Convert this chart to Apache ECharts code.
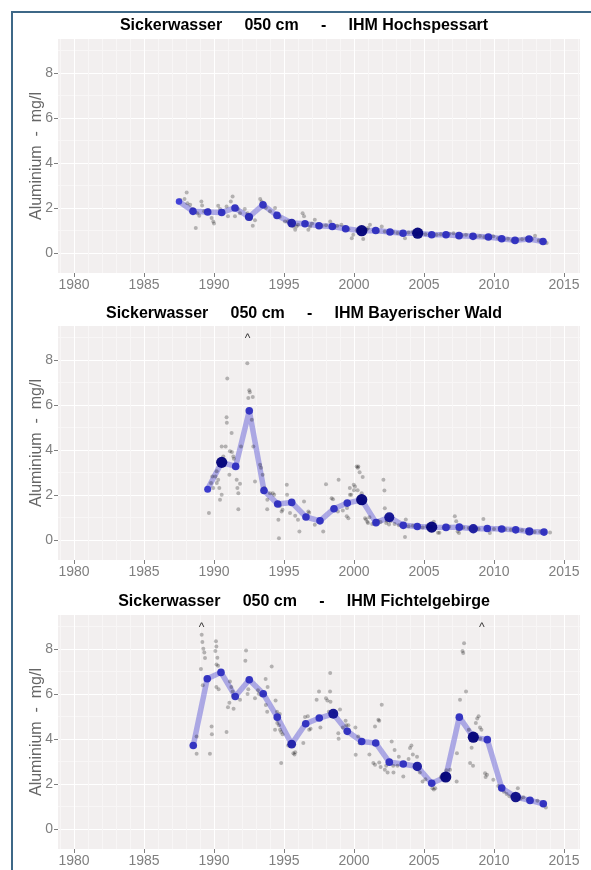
<!DOCTYPE html>
<html><head><meta charset="utf-8">
<script src="https://cdn.jsdelivr.net/npm/echarts@6/dist/echarts.min.js"></script>
<style>html,body{margin:0;padding:0;background:#fff}#c{width:591px;height:870px}</style>
</head><body><div id="c"></div>
<script>
const titles = [
  'Sickerwasser     050 cm     -     IHM Hochspessart',
  'Sickerwasser     050 cm     -     IHM Bayerischer Wald',
  'Sickerwasser     050 cm     -     IHM Fichtelgebirge'
];
const yAxisName = 'Aluminium  -  mg/l';
const xTicks = [1980, 1985, 1990, 1995, 2000, 2005, 2010, 2015];
const yTicks = [0, 2, 4, 6, 8];

// Panel 1: Hochspessart — annual means and sample counts
const years1 = [1987.5,1988.5,1989.55,1990.55,1991.5,1992.5,1993.5,1994.5,1995.55,1996.5,1997.5,1998.45,1999.4,2000.55,2001.55,2002.57,2003.5,2004.55,2005.55,2006.57,2007.5,2008.5,2009.6,2010.55,2011.5,2012.5,2013.5];
const means1 = [2.28,1.84,1.81,1.79,1.99,1.59,2.13,1.66,1.32,1.29,1.2,1.17,1.07,0.98,0.99,0.92,0.87,0.87,0.8,0.8,0.76,0.73,0.7,0.62,0.55,0.61,0.5];
const counts1 = [8,12,12,12,12,14,12,12,16,12,12,12,12,24,12,12,12,24,12,12,12,12,12,12,12,12,12];
const obs1 = [[1987.6,2.35],[1987.9,2.39],[1988.05,2.68],[1988.1,2.2],[1988.3,2.13],[1988.5,1.95],[1988.7,1.10],[1988.8,1.76],[1988.95,1.64],[1989.1,2.28],[1989.15,2.1],[1989.3,1.85],[1989.6,1.9],[1989.83,1.54],[1989.95,1.39],[1990.0,1.3],[1990.3,2.09],[1990.43,1.94],[1990.6,1.85],[1990.9,2.06],[1991.0,1.62],[1991.2,2.28],[1991.33,2.5],[1991.5,1.62],[1991.7,1.95],[1991.86,1.76],[1992.2,1.94],[1992.4,1.76],[1992.6,1.5],[1992.77,1.2],[1992.93,1.44],[1993.3,2.39],[1993.4,2.28],[1993.7,2.0],[1994.0,1.85],[1994.36,1.99],[1994.7,1.6],[1995.07,1.39],[1995.3,1.4],[1995.5,1.3],[1995.67,1.17],[1995.8,1.02],[1995.9,1.17],[1996.0,1.25],[1996.33,1.76],[1996.43,1.62],[1996.6,1.3],[1996.74,1.02],[1996.86,1.17],[1997.0,1.3],[1997.2,1.47],[1997.4,1.25],[1997.7,1.2],[1998.0,1.22],[1998.3,1.39],[1998.6,1.15],[1998.8,1.2],[1999.1,1.24],[1999.3,1.1],[1999.6,1.05],[1999.84,0.65],[1999.95,0.8],[2000.2,1.0],[2000.4,0.95],[2000.66,0.61],[2000.8,1.0],[2000.9,1.02],[2001.0,1.1],[2001.14,1.24],[2001.4,1.0],[2001.7,0.95],[2001.98,1.17],[2002.2,0.95],[2002.5,0.9],[2002.8,0.92],[2003.1,0.88],[2003.4,0.85],[2003.64,0.65],[2003.9,0.9],[2004.2,0.92],[2004.5,0.85],[2004.8,0.88],[2005.1,0.82],[2005.4,0.8],[2005.9,0.8],[2006.2,0.82],[2006.5,0.78],[2006.8,0.84],[2007.1,0.87],[2007.4,0.75],[2007.7,0.78],[2008.0,0.8],[2008.4,0.8],[2008.7,0.72],[2009.0,0.75],[2009.3,0.7],[2009.7,0.68],[2009.95,0.73],[2010.3,0.65],[2010.7,0.6],[2011.0,0.62],[2011.3,0.55],[2011.7,0.58],[2012.0,0.6],[2012.3,0.62],[2012.7,0.6],[2012.93,0.76],[2013.2,0.55],[2013.5,0.52],[2013.76,0.43]];
const over1 = [];

// Panel 2: Bayerischer Wald
const years2 = [1989.55,1990.55,1991.55,1992.52,1993.57,1994.55,1995.55,1996.57,1997.57,1998.57,1999.52,2000.55,2001.57,2002.52,2003.52,2004.52,2005.55,2006.57,2007.52,2008.52,2009.52,2010.55,2011.55,2012.52,2013.57];
const means2 = [2.25,3.44,3.26,5.73,2.19,1.59,1.66,1.01,0.84,1.38,1.63,1.78,0.76,1.0,0.64,0.59,0.56,0.55,0.56,0.49,0.5,0.48,0.44,0.37,0.34];
const counts2 = [10,24,12,12,12,12,12,12,12,12,12,24,12,20,12,12,24,12,12,18,12,12,12,14,12];
const obs2 = [[1989.64,1.19],[1989.79,2.52],[1989.88,2.81],[1989.95,2.3],[1990.1,2.81],[1990.2,2.52],[1990.3,2.67],[1990.43,1.78],[1990.55,2.0],[1990.38,2.3],[1990.19,3.04],[1990.55,4.15],[1990.67,3.7],[1990.83,4.15],[1990.95,7.17],[1990.9,5.44],[1990.92,5.2],[1991.1,2.89],[1991.14,3.93],[1991.26,4.74],[1991.28,3.9],[1991.38,3.7],[1991.42,3.6],[1991.62,2.67],[1991.67,2.3],[1991.74,2.07],[1991.86,2.49],[1991.74,1.36],[1991.93,4.15],[1992.38,7.85],[1992.52,6.64],[1992.56,6.56],[1992.45,6.3],[1992.77,6.35],[1992.7,5.33],[1992.81,4.15],[1992.93,2.59],[1993.29,3.33],[1993.36,3.2],[1993.48,2.89],[1993.6,2.3],[1993.81,1.78],[1994.0,2.07],[1994.2,2.07],[1994.3,2.0],[1993.8,1.36],[1994.5,1.6],[1994.6,0.89],[1994.7,1.5],[1994.83,1.26],[1994.9,1.33],[1995.2,2.44],[1995.22,2.0],[1994.64,0.07],[1995.43,1.19],[1995.8,1.07],[1996.0,0.89],[1996.43,1.7],[1996.1,0.37],[1996.74,1.26],[1996.8,1.2],[1997.2,0.67],[1997.8,0.37],[1998.0,2.47],[1998.4,1.85],[1998.5,1.8],[1998.9,2.67],[1998.85,1.26],[1999.2,1.3],[1999.48,1.04],[1999.5,1.41],[1999.6,0.96],[1999.7,2.3],[1999.71,2.0],[1999.8,2.0],[1999.98,2.44],[2000.0,2.2],[2000.07,2.37],[2000.19,3.26],[2000.27,3.2],[2000.31,3.26],[2000.26,2.2],[2000.4,3.0],[2000.55,2.07],[2000.62,2.79],[2000.79,0.96],[2000.86,0.9],[2000.95,0.8],[2001.0,0.74],[2001.1,1.0],[2001.3,0.7],[2001.5,0.75],[2001.7,0.85],[2001.9,0.79],[2002.1,2.67],[2002.17,2.19],[2002.2,1.4],[2002.3,0.74],[2002.35,0.85],[2002.5,0.68],[2002.6,0.82],[2002.7,0.95],[2002.9,0.7],[2003.2,0.65],[2003.64,0.12],[2003.7,0.9],[2003.9,0.6],[2004.2,0.62],[2004.6,0.58],[2004.9,0.55],[2005.2,0.6],[2005.5,0.58],[2005.7,0.8],[2006.0,0.31],[2006.1,0.31],[2006.4,0.55],[2006.8,0.58],[2007.2,1.04],[2007.3,0.82],[2007.4,0.37],[2007.5,0.3],[2007.8,0.55],[2008.2,0.52],[2008.6,0.5],[2008.9,0.48],[2009.24,0.92],[2009.5,0.5],[2009.7,0.3],[2010.0,0.48],[2010.4,0.52],[2010.8,0.47],[2011.2,0.45],[2011.6,0.44],[2012.0,0.42],[2012.4,0.38],[2012.9,0.35],[2013.3,0.36],[2013.6,0.33],[2014.0,0.32]];
const over2 = [1992.4];

// Panel 3: Fichtelgebirge
const years3 = [1988.52,1989.52,1990.5,1991.52,1992.52,1993.52,1994.52,1995.55,1996.55,1997.52,1998.52,1999.52,2000.55,2001.55,2002.52,2003.52,2004.52,2005.55,2006.55,2007.52,2008.52,2009.52,2010.55,2011.55,2012.57,2013.52];
const means3 = [3.7,6.67,6.95,5.88,6.62,6.0,4.96,3.76,4.67,4.92,5.11,4.33,3.88,3.81,2.96,2.88,2.77,2.02,2.3,4.96,4.07,3.96,1.81,1.41,1.26,1.11];
const counts3 = [12,12,12,12,12,12,12,16,12,12,20,12,12,12,12,12,18,12,24,12,24,12,12,22,12,12];
const obs3 = [[1988.76,4.1],[1988.76,3.33],[1989.07,7.1],[1989.12,8.62],[1989.17,8.3],[1989.24,8.0],[1989.31,7.83],[1989.36,7.59],[1989.2,6.38],[1989.71,3.33],[1989.83,4.55],[1989.85,4.2],[1990.14,8.33],[1990.17,8.1],[1990.1,7.9],[1990.24,7.6],[1990.18,7.3],[1990.29,7.25],[1990.17,6.3],[1990.33,6.2],[1990.9,4.3],[1991.14,6.55],[1991.24,6.3],[1991.33,6.1],[1991.35,5.9],[1991.1,5.6],[1991.0,5.4],[1991.4,5.33],[1991.86,5.73],[1992.29,7.92],[1992.24,7.47],[1992.4,5.99],[1992.45,6.2],[1992.93,5.8],[1993.14,6.16],[1993.2,6.0],[1993.38,5.93],[1993.57,6.0],[1993.69,6.66],[1993.83,6.3],[1994.12,7.21],[1993.7,5.5],[1993.8,5.2],[1994.36,4.4],[1994.4,5.7],[1994.5,5.2],[1994.7,5.1],[1994.52,4.7],[1994.64,4.6],[1994.72,4.4],[1994.8,4.3],[1994.9,4.2],[1994.8,2.92],[1995.3,3.7],[1995.67,3.36],[1995.8,3.4],[1995.75,3.3],[1996.38,3.81],[1996.5,4.97],[1996.7,5.0],[1996.8,4.4],[1996.9,4.45],[1997.33,5.73],[1997.5,6.1],[1997.6,4.5],[1998.0,5.8],[1998.1,5.7],[1998.3,6.92],[1998.32,5.65],[1998.2,5.2],[1998.29,6.1],[1998.6,5.2],[1998.88,4.25],[1998.9,4.0],[1999.0,5.3],[1999.2,4.5],[1999.4,4.8],[1999.45,4.6],[1999.6,4.6],[2000.1,4.5],[2000.3,4.1],[2000.12,3.29],[2000.4,3.8],[2001.1,3.3],[2001.5,4.55],[2001.74,4.84],[2001.8,4.8],[2001.98,5.51],[2001.38,2.92],[2001.5,2.85],[2001.8,2.95],[2001.9,2.75],[2002.2,2.62],[2002.3,2.8],[2002.4,2.5],[2002.69,3.88],[2002.8,2.8],[2002.82,2.5],[2002.9,3.5],[2003.1,2.8],[2003.2,3.2],[2003.52,2.32],[2003.9,3.1],[2004.0,3.59],[2004.1,3.7],[2004.2,3.3],[2004.5,3.2],[2004.7,2.5],[2004.9,2.1],[2005.1,2.2],[2005.6,1.8],[2005.7,1.75],[2005.8,1.8],[2006.2,2.3],[2006.38,2.4],[2006.6,2.6],[2006.86,2.62],[2007.33,2.1],[2007.35,3.36],[2007.57,5.73],[2007.8,7.81],[2007.86,8.25],[2007.75,7.9],[2008.0,6.1],[2008.2,4.4],[2008.29,2.92],[2008.4,3.6],[2008.5,2.8],[2008.7,4.7],[2008.8,4.9],[2008.9,5.0],[2009.0,4.5],[2009.1,4.4],[2009.02,4.0],[2009.36,2.47],[2009.4,2.3],[2009.5,2.4],[2009.95,2.18],[2010.3,1.9],[2010.5,1.75],[2010.7,1.65],[2010.9,1.55],[2011.1,1.45],[2011.7,1.8],[2011.9,1.35],[2012.1,1.4],[2012.4,1.3],[2012.7,1.25],[2013.1,1.25],[2013.5,1.05],[2013.7,0.95]];
const over3 = [1989.12, 2009.12];

const panels = [
  {years: years1, means: means1, counts: counts1, obs: obs1, over: over1},
  {years: years2, means: means2, counts: counts2, obs: obs2, over: over2},
  {years: years3, means: means3, counts: counts3, obs: obs3, over: over3}
];

const X_MIN = 1978.86, X_MAX = 2016.14, Y_MIN = -0.9, Y_MAX = 9.5, CAP_LEVEL = 8.95;
const gridTops = [39, 326, 615];
const titleTops = [13, 301, 589];
const GRID_H = 234;
const GRAY = '#7f7f7f';
const FONT = 'Liberation Sans, Arial, sans-serif';

function meanColor(n) {
  const t = Math.max(0, Math.min(1, (n - 8) / 16));
  const r = Math.round(60 * (1 - t));
  const g = Math.round(60 * (1 - t));
  const b = Math.round(215 - 95 * t);
  return 'rgb(' + r + ',' + g + ',' + b + ')';
}
function meanSize(n) { return 4 + n * 0.3; }

const option = {
  animation: false,
  backgroundColor: '#ffffff',
  textStyle: {fontFamily: FONT},
  title: titles.map((t, i) => ({
    text: t, left: 299, top: titleTops[i], textAlign: 'center',
    textStyle: {fontFamily: FONT, fontSize: 16, fontWeight: 'bold', color: '#000'}
  })),
  grid: gridTops.map(top => ({
    left: 58, width: 522, top: top, height: GRID_H,
    show: true, backgroundColor: '#F2EFEF', borderWidth: 0, containLabel: false
  })),
  xAxis: gridTops.map((_, i) => ({
    type: 'value', gridIndex: i, min: X_MIN, max: X_MAX, minInterval: 5, maxInterval: 5,
    axisLine: {show: false, onZero: false},
    axisTick: {show: true, length: 4, lineStyle: {color: GRAY}, customValues: xTicks},
    axisLabel: {color: GRAY, fontSize: 14, margin: 5, customValues: xTicks, formatter: v => String(v)},
    splitLine: {show: true, lineStyle: {color: '#ffffff', width: 1}},
    minorTick: {show: false, splitNumber: 5},
    minorSplitLine: {show: true, lineStyle: {color: '#F8F6F6', width: 1}}
  })),
  yAxis: gridTops.map((_, i) => ({
    type: 'value', gridIndex: i, min: Y_MIN, max: Y_MAX, minInterval: 2, maxInterval: 2,
    name: yAxisName, nameLocation: 'middle', nameGap: 13, nameMoveOverlap: false,
    nameTextStyle: {color: '#666', fontSize: 16, fontFamily: FONT},
    axisLine: {show: false, onZero: false},
    axisTick: {show: true, length: 4, lineStyle: {color: GRAY}, customValues: yTicks},
    axisLabel: {color: GRAY, fontSize: 14, margin: 5, customValues: yTicks, formatter: v => String(v)},
    splitLine: {show: true, lineStyle: {color: '#ffffff', width: 1}},
    minorTick: {show: false, splitNumber: 2},
    minorSplitLine: {show: true, lineStyle: {color: '#F8F6F6', width: 1}}
  })),
  graphic: [
    {type: 'polyline', shape: {points: [[12, 870], [12, 12], [591, 12]]}, style: {stroke: '#3E6887', lineWidth: 2, fill: null}, silent: true}
  ],
  series: []
};

panels.forEach((p, i) => {
  option.series.push({
    type: 'line', xAxisIndex: i, yAxisIndex: i, silent: true, z: 2,
    data: p.years.map((y, k) => [y, p.means[k]]),
    showSymbol: false, symbol: 'none',
    lineStyle: {color: 'rgba(100,95,215,0.5)', width: 5.5, cap: 'round', join: 'round'}
  });
  option.series.push({
    type: 'scatter', xAxisIndex: i, yAxisIndex: i, silent: true, z: 3,
    data: p.obs, symbolSize: 4,
    itemStyle: {color: 'rgba(0,0,0,0.33)'}
  });
  option.series.push({
    type: 'scatter', xAxisIndex: i, yAxisIndex: i, silent: true, z: 4,
    data: p.years.map((y, k) => [y, p.means[k], p.counts[k]]),
    symbolSize: v => meanSize(v[2]),
    itemStyle: {color: params => meanColor(params.value[2]), opacity: 0.95}
  });
  if (p.over.length) {
    option.series.push({
      type: 'scatter', xAxisIndex: i, yAxisIndex: i, silent: true, z: 5,
      data: p.over.map(y => [y, CAP_LEVEL]), symbolSize: 1,
      itemStyle: {color: 'rgba(0,0,0,0)'},
      label: {show: true, position: 'inside', formatter: '^', color: '#000', fontSize: 12}
    });
  }
});

const chart = echarts.init(document.getElementById('c'), null, {renderer: 'canvas'});
chart.setOption(option);
</script>
</body></html>
